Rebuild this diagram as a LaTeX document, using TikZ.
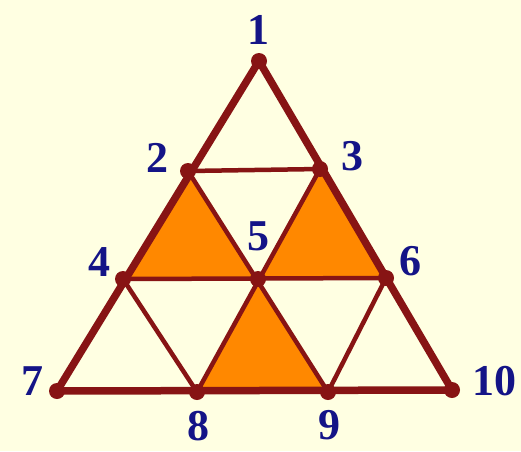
\documentclass[tikz,border=0pt]{standalone}
\usepackage{fontspec}
\setmainfont{Liberation Serif}
\usepackage{xcolor}
\definecolor{bgcream}{RGB}{255,255,226}
\definecolor{edgered}{RGB}{135,20,20}
\definecolor{fillorange}{RGB}{255,136,0}
\definecolor{numblue}{RGB}{20,20,135}

\tikzset{
  dot/.style={circle,fill=edgered,inner sep=0pt,minimum size=16pt},
  num/.style={text=numblue,font=\fontsize{44}{44}\selectfont\bfseries,inner sep=0pt},
  outer/.style={edgered,line width=7.5pt},
  inner/.style={edgered,line width=4.5pt}
}

\begin{document}
\begin{tikzpicture}[x=1pt,y=-1pt]
  \fill[bgcream] (0,0) rectangle (521,451);
  \useasboundingbox (0,0) rectangle (521,451);
  % points
  \coordinate (p1) at (259,61);
  \coordinate (p2) at (188,171);
  \coordinate (p3) at (320,169);
  \coordinate (p4) at (123,279);
  \coordinate (p5) at (258,279);
  \coordinate (p6) at (386,278);
  \coordinate (p7) at (57,391);
  \coordinate (p8) at (197,392);
  \coordinate (p9) at (328,392);
  \coordinate (p10) at (452,390);
  % shaded triangles
  \fill[fillorange] (p2) -- (p4) -- (p5) -- cycle;
  \fill[fillorange] (p3) -- (p5) -- (p6) -- cycle;
  \fill[fillorange] (p5) -- (p8) -- (p9) -- cycle;
  % lines
  \draw[inner] (p2) -- (p3);
  \draw[inner] (p4) -- (p6);
  \draw[inner] (p2) -- (p9);
  \draw[inner] (p3) -- (p8);
  \draw[inner] (p4) -- (p8);
  \draw[inner] (p6) -- (p9);
  \draw[outer] (p1) -- (p7);
  \draw[outer] (p1) -- (p10);
  \draw[outer] (p7) -- (p10);
  % dots
  \foreach \i in {1,...,10}
    \node[dot] (v\i) at (p\i) {};
  % numbers
  \node[num] (l1) at (258,30) {1};
  \node[num] (l2) at (157,158) {2};
  \node[num] (l3) at (352,156) {3};
  \node[num] (l4) at (99,262) {4};
  \node[num] (l5) at (258,236) {5};
  \node[num] (l6) at (410,261) {6};
  \node[num] (l7) at (32,381) {7};
  \node[num] (l8) at (198,426) {8};
  \node[num] (l9) at (329,425) {9};
  \node[num] (l10) at (494,381) {10};
\end{tikzpicture}
\end{document}
